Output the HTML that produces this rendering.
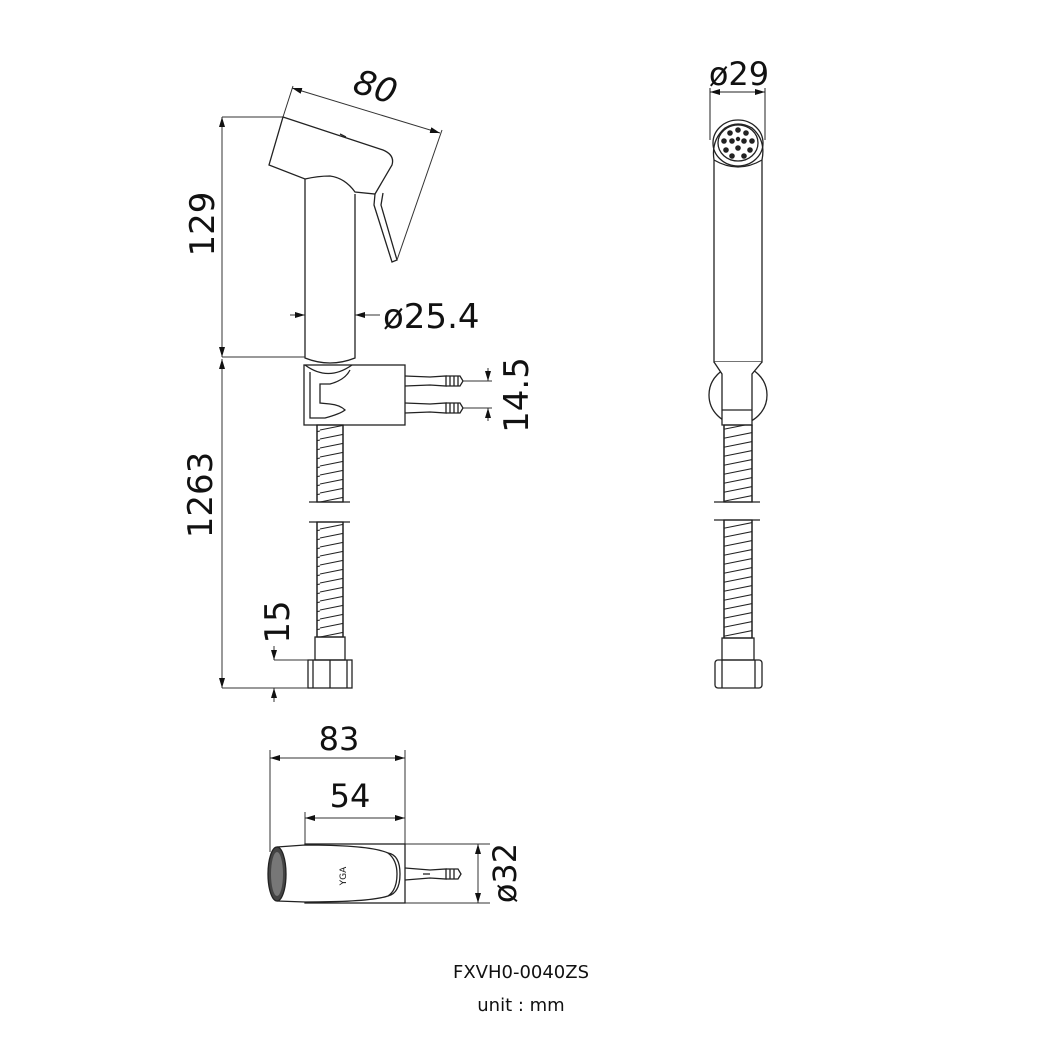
<!DOCTYPE html>
<html><head><meta charset="utf-8"><style>
html,body{margin:0;padding:0;background:#fff;}
svg{display:block}
text{font-family:"DejaVu Sans","Liberation Sans",sans-serif;fill:#111}
</style></head><body>
<svg width="1040" height="1040" viewBox="0 0 1040 1040" xmlns="http://www.w3.org/2000/svg">
<defs>
<marker id="a" viewBox="0 0 10 6" refX="10" refY="3" markerWidth="10" markerHeight="6" orient="auto-start-reverse" markerUnits="userSpaceOnUse"><path d="M0,0 L10,3 L0,6z" fill="#111"/></marker>
<pattern id="hose" patternUnits="userSpaceOnUse" width="40" height="9"><line x1="0" y1="7" x2="40" y2="-1" stroke="#222" stroke-width="1.1"/><line x1="0" y1="16" x2="40" y2="8" stroke="#222" stroke-width="1.1"/></pattern>
</defs>
<g fill="none" stroke="#222" stroke-width="1.3">
<path d="M283,117 L383,150 Q395,155 392,165 L375,194 L355,192 Q345,178 330,176 Q318,176 305,179 L269,165 Z" fill="#fff"/>
<line x1="340" y1="134" x2="346" y2="137"/>
<path d="M375,194 L374,205 L392,262 L397,260 L381,205 L383,193"/>
<path d="M305,179 L305,358 Q330,368 355,358 L355,194"/>
<rect x="304" y="365" width="101" height="60" fill="#fff"/>
<path d="M310,372 L310,418 L325,418 Q340,414 345,410 Q340,405 330,404 L320,403 L320,384 L330,384 Q345,380 350,370"/>
<path d="M305,365 Q328,382 352,365"/>
<g>
<path d="M405,376 L430,377 L446,376 L446,386 L430,385 L405,386"/>
<path d="M446,376 L460,376 L463,381 L460,386 L446,386"/>
<line x1="450" y1="376" x2="450" y2="386"/><line x1="454" y1="376" x2="454" y2="386"/><line x1="458" y1="376" x2="458" y2="386"/>
<path d="M405,403 L430,404 L446,403 L446,413 L430,412 L405,413"/>
<path d="M446,403 L460,403 L463,408 L460,413 L446,413"/>
<line x1="450" y1="403" x2="450" y2="413"/><line x1="454" y1="403" x2="454" y2="413"/><line x1="458" y1="403" x2="458" y2="413"/>
</g>
<rect x="317" y="425" width="26" height="77" fill="url(#hose)"/>
<line x1="317" y1="425" x2="317" y2="502"/><line x1="343" y1="425" x2="343" y2="502"/>
<line x1="309" y1="502" x2="350" y2="502"/><line x1="309" y1="522" x2="350" y2="522"/>
<rect x="317" y="522" width="26" height="115" fill="url(#hose)"/>
<line x1="317" y1="522" x2="317" y2="637"/><line x1="343" y1="522" x2="343" y2="637"/>
<rect x="315" y="637" width="30" height="23"/>
<rect x="308" y="660" width="44" height="28"/>
<line x1="313" y1="660" x2="313" y2="688"/><line x1="330" y1="660" x2="330" y2="688"/><line x1="347" y1="660" x2="347" y2="688"/>
</g>
<g stroke="#333" stroke-width="1" fill="none">
<line x1="222" y1="117" x2="283" y2="117"/>
<line x1="222" y1="357" x2="305" y2="357"/>
<line x1="222" y1="688" x2="308" y2="688"/>
<line x1="222" y1="117" x2="222" y2="357" marker-start="url(#a)" marker-end="url(#a)"/>
<line x1="222" y1="359" x2="222" y2="688" marker-start="url(#a)" marker-end="url(#a)"/>
<line x1="274" y1="660" x2="308" y2="660"/>
<line x1="274" y1="646" x2="274" y2="660" marker-end="url(#a)"/>
<line x1="274" y1="702" x2="274" y2="688" marker-end="url(#a)"/>
<line x1="290" y1="315" x2="305" y2="315" marker-end="url(#a)"/>
<line x1="380" y1="315" x2="355" y2="315" marker-end="url(#a)"/>
<line x1="283" y1="117" x2="293" y2="86"/>
<line x1="397" y1="260" x2="442" y2="130"/>
<line x1="292" y1="88" x2="440" y2="133" marker-start="url(#a)" marker-end="url(#a)"/>
<line x1="463" y1="381" x2="492" y2="381"/>
<line x1="463" y1="408" x2="492" y2="408"/>
<line x1="488" y1="368" x2="488" y2="381" marker-end="url(#a)"/>
<line x1="488" y1="421" x2="488" y2="408" marker-end="url(#a)"/>
</g>
<text x="0" y="0" font-size="34" transform="translate(214,224) rotate(-90)" text-anchor="middle">129</text>
<text x="0" y="0" font-size="34" transform="translate(212,495) rotate(-90)" text-anchor="middle">1263</text>
<text x="0" y="0" font-size="34" transform="translate(289,622) rotate(-90)" text-anchor="middle">15</text>
<text x="0" y="0" font-size="34" transform="translate(528,395) rotate(-90)" text-anchor="middle">14.5</text>
<text x="383" y="328" font-size="34">ø25.4</text>
<text x="0" y="0" font-size="34" font-style="italic" transform="translate(372,98) rotate(17)" text-anchor="middle">80</text>

<g fill="none" stroke="#222" stroke-width="1.3">
<line x1="710" y1="88" x2="710" y2="140" stroke-width="1"/>
<line x1="765" y1="88" x2="765" y2="140" stroke-width="1"/>
<line x1="710" y1="92" x2="765" y2="92" stroke-width="1" marker-start="url(#a)" marker-end="url(#a)"/>
<circle cx="738" cy="395" r="29" fill="#fff"/>
<path d="M714,160 Q711,140 725,128 Q738,120 752,128 Q766,140 762,160 L762,362 L714,362 Z" fill="#fff"/>
<path d="M714,160 Q738,174 762,160"/>
<ellipse cx="738" cy="143" rx="25" ry="23"/>
<ellipse cx="738" cy="143" rx="20" ry="18"/>
<path d="M714,362 L722,374 L722,425 L752,425 L752,374 L762,362" fill="#fff"/>
<line x1="722" y1="410" x2="752" y2="410"/>
<rect x="724" y="425" width="28" height="77" fill="url(#hose)"/>
<line x1="724" y1="425" x2="724" y2="502"/><line x1="752" y1="425" x2="752" y2="502"/>
<line x1="714" y1="502" x2="760" y2="502"/><line x1="714" y1="520" x2="760" y2="520"/>
<rect x="724" y="520" width="28" height="118" fill="url(#hose)"/>
<line x1="724" y1="520" x2="724" y2="638"/><line x1="752" y1="520" x2="752" y2="638"/>
<rect x="722" y="638" width="32" height="22"/>
<rect x="715" y="660" width="47" height="28" rx="3"/>
<line x1="722" y1="660" x2="722" y2="688"/><line x1="755" y1="660" x2="755" y2="688"/>
</g>
<g fill="#222">
<circle cx="730" cy="133" r="2.8"/><circle cx="738" cy="130" r="2.8"/><circle cx="746" cy="133" r="2.8"/>
<circle cx="724" cy="141" r="2.8"/><circle cx="732" cy="141" r="2.8"/><circle cx="744" cy="141" r="2.8"/><circle cx="752" cy="141" r="2.8"/>
<circle cx="726" cy="150" r="2.8"/><circle cx="738" cy="148" r="2.8"/><circle cx="750" cy="150" r="2.8"/>
<circle cx="732" cy="156" r="2.8"/><circle cx="744" cy="156" r="2.8"/><circle cx="738" cy="139" r="2.2"/>
</g>
<text x="739" y="85" font-size="32" text-anchor="middle">ø29</text>

<g fill="none" stroke="#333" stroke-width="1">
<line x1="270" y1="750" x2="270" y2="852"/>
<line x1="405" y1="750" x2="405" y2="845"/>
<line x1="305" y1="812" x2="305" y2="845"/>
<line x1="270" y1="758" x2="405" y2="758" marker-start="url(#a)" marker-end="url(#a)"/>
<line x1="305" y1="818" x2="405" y2="818" marker-start="url(#a)" marker-end="url(#a)"/>
<line x1="405" y1="844" x2="490" y2="844"/>
<line x1="405" y1="903" x2="490" y2="903"/>
<line x1="478" y1="844" x2="478" y2="903" marker-start="url(#a)" marker-end="url(#a)"/>
</g>
<g fill="none" stroke="#222" stroke-width="1.3">
<rect x="305" y="844" width="100" height="59"/>
<path d="M277,847 L305,845 Q370,845 388,853 Q397,860 397,874 Q397,890 388,896 Q370,902 305,902 L277,901" fill="#fff"/>
<path d="M388,853 Q400,855 400,874 Q400,893 388,896"/>
<ellipse cx="277" cy="874" rx="9" ry="27" fill="#444"/>
<ellipse cx="277" cy="874" rx="6" ry="22" fill="#777" stroke="none"/>
<path d="M405,868 L430,870 L446,869 L446,879 L430,878 L405,880"/>
<path d="M446,869 L458,869 L461,874 L458,879 L446,879"/>
<line x1="450" y1="869" x2="450" y2="879"/><line x1="454" y1="869" x2="454" y2="879"/>
<line x1="423" y1="874" x2="430" y2="874"/>
</g>
<text x="339" y="750" font-size="32" text-anchor="middle">83</text>
<text x="350" y="807" font-size="32" text-anchor="middle">54</text>
<text x="0" y="0" font-size="32" transform="translate(516,873) rotate(-90)" text-anchor="middle">ø32</text>
<text x="0" y="0" font-size="9" transform="translate(346,876) rotate(-90)" text-anchor="middle">YGA</text>

<text x="521" y="978" font-size="18" text-anchor="middle">FXVH0-0040ZS</text>
<text x="521" y="1011" font-size="18" text-anchor="middle">unit : mm</text>
</svg>
</body></html>
